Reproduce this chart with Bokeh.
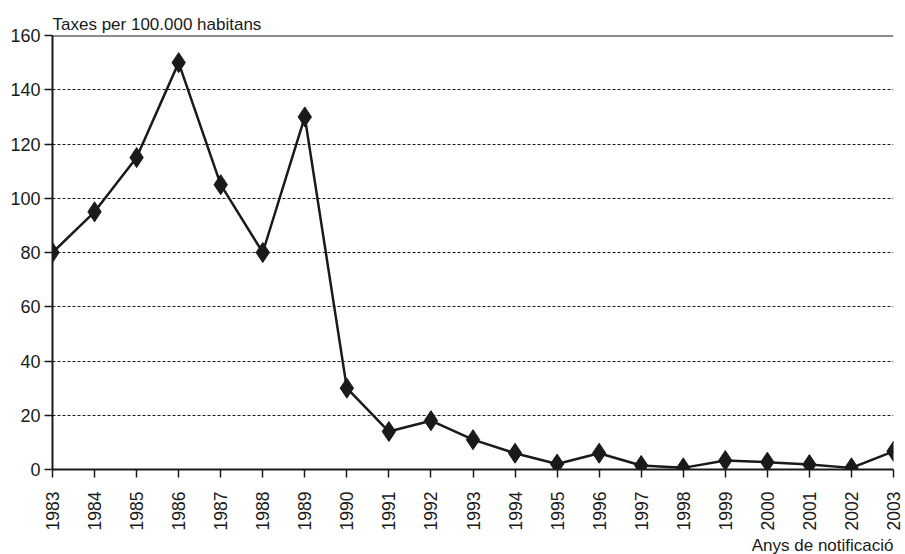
from bokeh.plotting import figure
from bokeh.models import Range1d, FixedTicker, Span, Title
from bokeh.embed import file_html
from bokeh.resources import INLINE

years = list(range(1983, 2004))
rates = [80, 95, 115, 150, 105, 80, 130, 30, 14, 18, 11, 6, 2, 6, 1.5, 0.6, 3.3, 2.7, 1.8, 0.6, 6.7]
y_ticks = [0, 20, 40, 60, 80, 100, 120, 140, 160]
y_title = "Taxes per 100.000 habitans"
x_title = "Anys de notificació"

FONT = "Liberation Sans"
INK = "#1a1a1a"

p = figure(width=905, height=554, output_backend="svg", toolbar_location=None,
           x_range=Range1d(1983, 2003), y_range=Range1d(0, 160),
           min_border_left=52, min_border_right=12, min_border_top=35, min_border_bottom=80)
p.title.text = y_title
p.title.text_font = FONT
p.title.text_font_size = "17px"
p.title.text_font_style = "normal"
p.title.text_color = INK
p.title.align = "left"
p.title.standoff = 4
p.outline_line_color = None
p.background_fill_color = "white"
p.border_fill_color = "white"

p.xgrid.grid_line_color = None
p.ygrid.grid_line_color = INK
p.ygrid.grid_line_dash = "3 2"
p.ygrid.grid_line_width = 1
p.ygrid.ticker = FixedTicker(ticks=y_ticks[1:-1])

top = Span(location=160, dimension="width", line_color=INK, line_width=2)
p.add_layout(top)

p.xaxis.ticker = FixedTicker(ticks=years)
p.xaxis.major_label_orientation = 1.5708
p.xaxis.major_label_text_font = FONT
p.xaxis.major_label_text_font_size = "17.5px"
p.xaxis.major_label_text_color = INK
p.xaxis.major_tick_out = 8
p.xaxis.major_tick_in = 0
p.xaxis.minor_tick_line_color = None
p.xaxis.axis_line_width = 2
p.xaxis.axis_line_color = INK
p.xaxis.major_tick_line_color = INK
p.xaxis.major_tick_line_width = 1.5
p.xaxis.major_label_standoff = 14

p.yaxis.ticker = FixedTicker(ticks=y_ticks)
p.yaxis.major_label_text_font = FONT
p.yaxis.major_label_text_font_size = "18px"
p.yaxis.major_label_text_color = INK
p.yaxis.major_tick_out = 8
p.yaxis.major_tick_in = 0
p.yaxis.minor_tick_line_color = None
p.yaxis.axis_line_width = 2
p.yaxis.axis_line_color = INK
p.yaxis.major_tick_line_color = INK
p.yaxis.major_tick_line_width = 1.5
p.yaxis.major_label_standoff = 4

p.line(years, rates, line_color=INK, line_width=2.5)
p.scatter(years, rates, marker="diamond", size=20, fill_color=INK, line_color=INK)

xt = Title(text=x_title, align="right", text_font=FONT, text_font_size="17px",
           text_font_style="normal", text_color=INK, standoff=0, text_line_height=0.7)
p.add_layout(xt, "below")

open("out.html", "w").write(file_html(p, INLINE))
